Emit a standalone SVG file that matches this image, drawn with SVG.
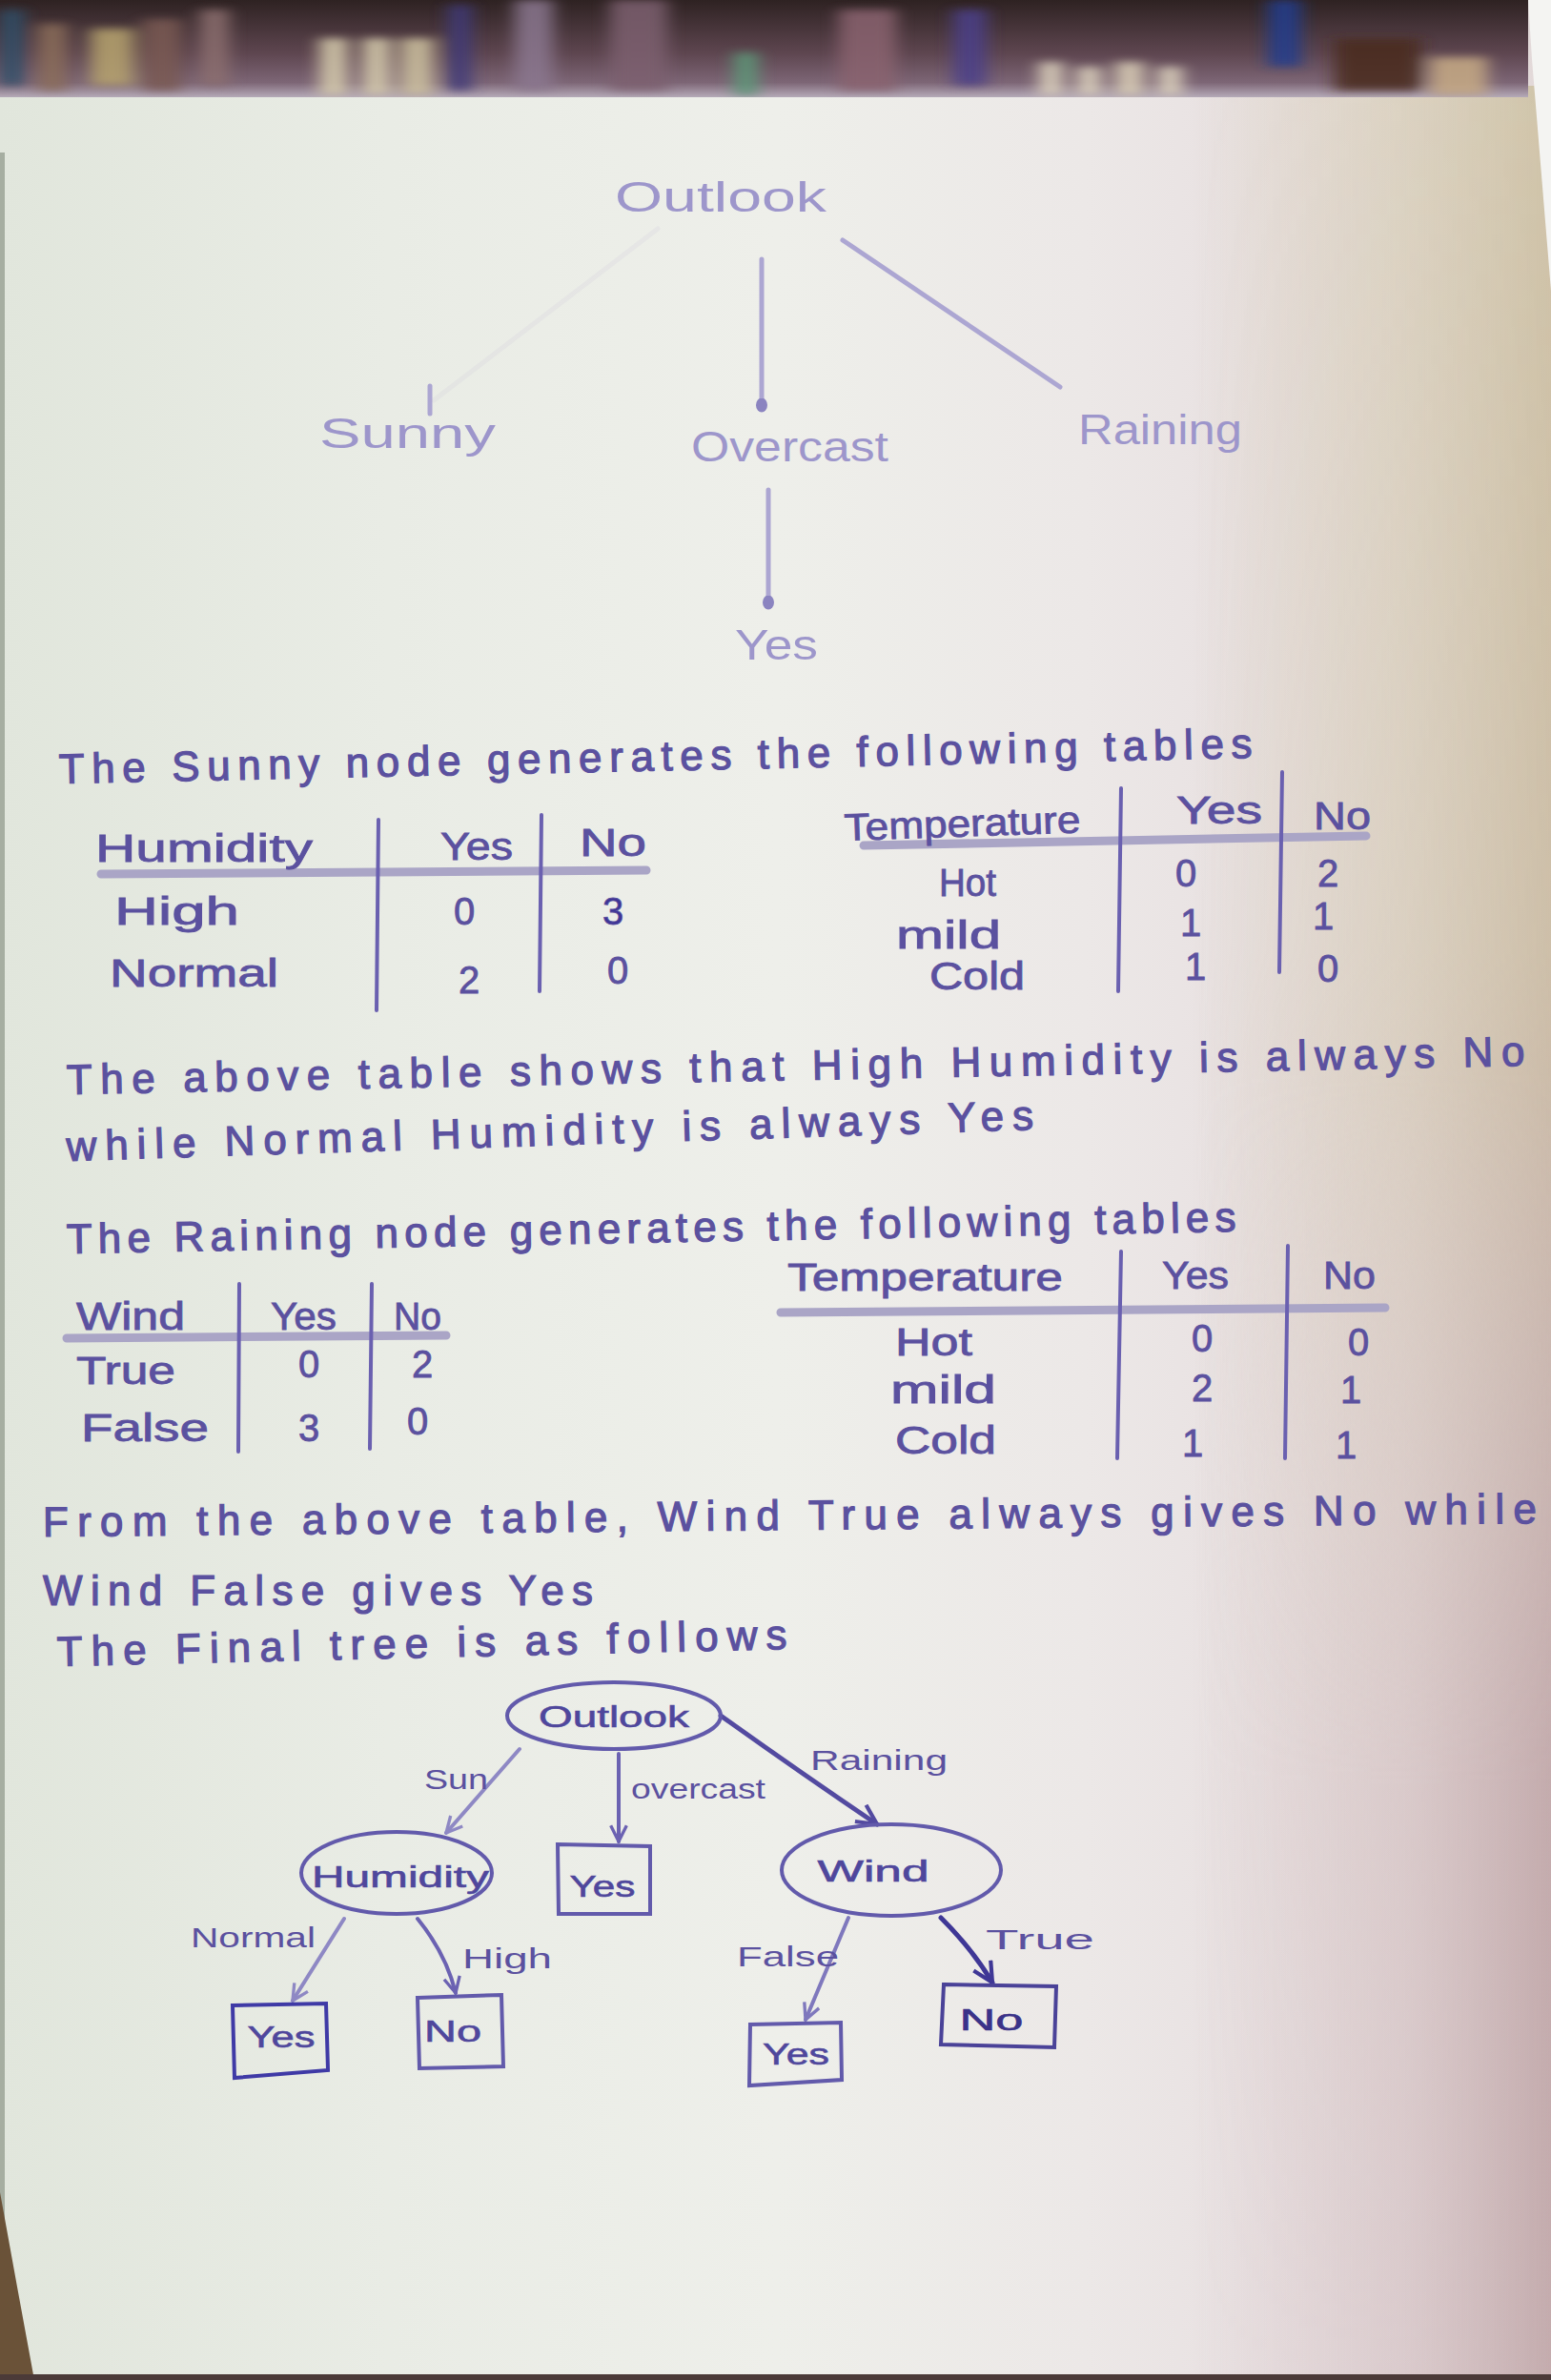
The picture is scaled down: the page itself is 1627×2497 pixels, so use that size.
<svg xmlns="http://www.w3.org/2000/svg" width="1627" height="2497" viewBox="0 0 1627 2497">
  <defs>
    <linearGradient id="paper" x1="0" y1="0" x2="1" y2="0">
      <stop offset="0" stop-color="#e1e6dc"/>
      <stop offset="0.25" stop-color="#e9ece5"/>
      <stop offset="0.5" stop-color="#eeefea"/>
      <stop offset="0.7" stop-color="#ece8e7"/>
      <stop offset="0.82" stop-color="#e8e0e1"/>
      <stop offset="1" stop-color="#e2d8d8"/>
    </linearGradient>
    <linearGradient id="edgeTone" x1="0" y1="0" x2="1" y2="0">
      <stop offset="0" stop-color="#d6cdb0" stop-opacity="0"/>
      <stop offset="0.55" stop-color="#d6cdb0" stop-opacity="0.55"/>
      <stop offset="1" stop-color="#cfc3a6" stop-opacity="0.95"/>
    </linearGradient>
    <linearGradient id="edgeRose" x1="0" y1="0" x2="1" y2="0">
      <stop offset="0" stop-color="#d9c6c9" stop-opacity="0"/>
      <stop offset="0.6" stop-color="#d3bfc2" stop-opacity="0.6"/>
      <stop offset="1" stop-color="#c2a9ab" stop-opacity="0.95"/>
    </linearGradient>
    <linearGradient id="fadeDown" x1="0" y1="0" x2="0" y2="1">
      <stop offset="0" stop-color="#fff"/>
      <stop offset="0.45" stop-color="#fff"/>
      <stop offset="0.75" stop-color="#fff" stop-opacity="0.2"/>
      <stop offset="1" stop-color="#fff" stop-opacity="0"/>
    </linearGradient>
    <linearGradient id="fadeUp" x1="0" y1="0" x2="0" y2="1">
      <stop offset="0" stop-color="#fff" stop-opacity="0"/>
      <stop offset="0.4" stop-color="#fff" stop-opacity="0.2"/>
      <stop offset="0.75" stop-color="#fff"/>
      <stop offset="1" stop-color="#fff"/>
    </linearGradient>
    <mask id="topPart" maskUnits="userSpaceOnUse" x="1200" y="0" width="427" height="2497">
      <rect x="1200" y="0" width="427" height="2497" fill="url(#fadeDown)"/>
    </mask>
    <mask id="lowPart" maskUnits="userSpaceOnUse" x="1200" y="0" width="427" height="2497">
      <rect x="1200" y="0" width="427" height="2497" fill="url(#fadeUp)"/>
    </mask>
    <linearGradient id="band" x1="0" y1="0" x2="0" y2="1">
      <stop offset="0" stop-color="#2e2222"/>
      <stop offset="0.55" stop-color="#5e4650"/>
      <stop offset="0.85" stop-color="#7d6676"/>
      <stop offset="1" stop-color="#b5aab8"/>
    </linearGradient>
    <clipPath id="bandClip">
      <rect x="0" y="0" width="1603" height="102"/>
    </clipPath>
    <filter id="soft" x="-10%" y="-50%" width="120%" height="200%">
      <feGaussianBlur stdDeviation="9 4"/>
    </filter>
    <marker id="tip" viewBox="0 0 12 12" refX="11" refY="6" markerWidth="5" markerHeight="5" orient="auto" markerUnits="strokeWidth">
      <path d="M1,1 L11,6 L1,11" fill="none" stroke="context-stroke" stroke-width="2"/>
    </marker>
    <marker id="dot" viewBox="0 0 10 10" refX="5" refY="5" markerWidth="3" markerHeight="4" orient="auto" markerUnits="strokeWidth">
      <ellipse cx="5" cy="5" rx="5" ry="4" fill="#8b84c0"/>
    </marker>
  </defs>
  <style>
    .ink { font-family: "Liberation Sans", "DejaVu Sans", sans-serif; fill: #5b519f; }
    .faint { font-family: "Liberation Sans", "DejaVu Sans", sans-serif; fill: #9d96cb; font-size: 44px; }
    .line { font-size: 44px; stroke: #5b519f; stroke-width: 1.2; }
    .cell { font-size: 40px; stroke: #5b519f; stroke-width: 0.8; }
    .node { font-size: 31px; fill: #4f479c; stroke: #4f479c; stroke-width: 0.6; }
    .lbl { font-size: 29px; fill: #5b519f; }
    .rule { stroke: #6a60b0; stroke-width: 4; fill: none; stroke-linecap: round; }
    .hdr { stroke: #aaa5c6; stroke-width: 9; fill: none; stroke-linecap: round; }
    .edge { stroke: #6b62b2; stroke-width: 4; fill: none; stroke-linecap: round; marker-end: url(#tip); }
    .oldedge { stroke: #aca6d2; stroke-width: 5; fill: none; stroke-linecap: round; }
    .shape { stroke: #625aab; stroke-width: 4; fill: none; }
  </style>

  <!-- paper -->
  <rect x="0" y="0" width="1627" height="2497" fill="url(#paper)"/>
  <rect x="1250" y="90" width="377" height="2407" fill="url(#edgeTone)" mask="url(#topPart)"/>
  <rect x="1250" y="90" width="377" height="2407" fill="url(#edgeRose)" mask="url(#lowPart)"/>
  <!-- white area beyond the sheet, top right -->
  <polygon points="1603,0 1627,0 1627,305 1607,62" fill="#f4f4f2"/>
  <!-- left edge shadow and curled corner -->
  <rect x="0" y="160" width="5" height="2340" fill="#5f6a58" opacity="0.45"/>
  <path d="M0,2300 Q18,2400 36,2497 L0,2497 Z" fill="#6a5238"/>
  <rect x="0" y="2491" width="1627" height="6" fill="#4b3a38"/>

  <!-- background above the sheet -->
  <g id="backdrop" clip-path="url(#bandClip)">
    <rect x="0" y="0" width="1603" height="102" fill="url(#band)"/>
    <g filter="url(#soft)" opacity="0.85">
      <rect x="0" y="10" width="25" height="80" fill="#2f4f6a"/>
      <rect x="40" y="25" width="30" height="70" fill="#8c6e5a"/>
      <rect x="95" y="30" width="45" height="60" fill="#b7a46e"/>
      <rect x="150" y="20" width="40" height="75" fill="#7a5a52"/>
      <rect x="210" y="10" width="30" height="80" fill="#8d7070"/>
      <rect x="335" y="40" width="30" height="60" fill="#d8ceae"/>
      <rect x="380" y="40" width="30" height="60" fill="#d8ceae"/>
      <rect x="420" y="40" width="35" height="60" fill="#cfc3a0"/>
      <rect x="470" y="5" width="25" height="90" fill="#3f3a7a"/>
      <rect x="540" y="0" width="40" height="95" fill="#8b7890"/>
      <rect x="640" y="0" width="60" height="95" fill="#7d6070"/>
      <rect x="770" y="55" width="25" height="45" fill="#5c9a78"/>
      <rect x="880" y="10" width="60" height="85" fill="#8a6470"/>
      <rect x="1000" y="10" width="35" height="80" fill="#4b3f8a"/>
      <rect x="1090" y="65" width="25" height="35" fill="#e0d6c0"/>
      <rect x="1130" y="70" width="25" height="30" fill="#e0d6c0"/>
      <rect x="1170" y="65" width="30" height="35" fill="#dcd0b8"/>
      <rect x="1215" y="70" width="25" height="30" fill="#e0d6c0"/>
      <rect x="1330" y="0" width="35" height="70" fill="#243e8e"/>
      <rect x="1400" y="40" width="90" height="55" fill="#4a2a1e"/>
      <rect x="1500" y="60" width="60" height="40" fill="#c7ab85"/>
    </g>
  </g>

  <!-- first sketch of the tree (faded) -->
  <g id="connectors-sketch">
    <line class="oldedge" x1="690" y1="240" x2="455" y2="420" opacity="0.1"/>
    <line class="oldedge" x1="451" y1="405" x2="451" y2="434"/>
    <line class="oldedge" x1="799" y1="272" x2="799" y2="425" marker-end="url(#dot)"/>
    <line class="oldedge" x1="884" y1="252" x2="1112" y2="406"/>
    <line class="oldedge" x1="806" y1="514" x2="806" y2="632" marker-end="url(#dot)"/>
  </g>
  <g id="sketch-outlook"><text class="faint" x="645" y="222" textLength="222" lengthAdjust="spacingAndGlyphs">Outlook</text></g>
  <g id="sketch-sunny"><text class="faint" x="335" y="470" textLength="185" lengthAdjust="spacingAndGlyphs">Sunny</text></g>
  <g id="sketch-overcast"><text class="faint" x="725" y="484" textLength="207" lengthAdjust="spacingAndGlyphs">Overcast</text></g>
  <g id="sketch-raining"><text class="faint" x="1131" y="466" textLength="172" lengthAdjust="spacingAndGlyphs">Raining</text></g>
  <g id="sketch-yes"><text class="faint" x="771" y="692" textLength="87" lengthAdjust="spacingAndGlyphs">Yes</text></g>

  <!-- notes -->
  <text class="ink line" x="62" y="822" textLength="1252" lengthAdjust="spacing" transform="rotate(-1.24 62 822)">The Sunny node generates the following tables</text>

  <!-- Sunny: Humidity table -->
  <g id="table-sunny-humidity">
    <line class="hdr" x1="106" y1="917" x2="678" y2="913"/>
    <line class="rule" x1="397" y1="860" x2="395" y2="1060"/>
    <line class="rule" x1="568" y1="855" x2="566" y2="1040"/>
    <text class="ink cell" x="100" y="904" textLength="228" lengthAdjust="spacingAndGlyphs">Humidity</text>
    <text class="ink cell" x="462" y="902" textLength="76" lengthAdjust="spacingAndGlyphs">Yes</text>
    <text class="ink cell" x="608" y="898" textLength="70" lengthAdjust="spacingAndGlyphs">No</text>
    <text class="ink cell" x="120" y="970" textLength="131" lengthAdjust="spacingAndGlyphs">High</text>
    <text class="ink cell" x="487" y="970" text-anchor="middle">0</text>
    <text class="ink cell" x="643" y="970" text-anchor="middle" style="fill:#3e3596">3</text>
    <text class="ink cell" x="115" y="1035" textLength="177" lengthAdjust="spacingAndGlyphs">Normal</text>
    <text class="ink cell" x="492" y="1042" text-anchor="middle">2</text>
    <text class="ink cell" x="648" y="1032" text-anchor="middle">0</text>
  </g>

  <!-- Sunny: Temperature table -->
  <g id="table-sunny-temperature">
    <line class="hdr" x1="906" y1="887" x2="1433" y2="877"/>
    <line class="rule" x1="1176" y1="827" x2="1173" y2="1040"/>
    <line class="rule" x1="1345" y1="810" x2="1342" y2="1020"/>
    <text class="ink cell" x="886" y="882" textLength="248" lengthAdjust="spacingAndGlyphs" transform="rotate(-2 886 882)">Temperature</text>
    <text class="ink cell" x="1234" y="864" textLength="90" lengthAdjust="spacingAndGlyphs">Yes</text>
    <text class="ink cell" x="1378" y="870" textLength="60" lengthAdjust="spacingAndGlyphs">No</text>
    <text class="ink cell" x="985" y="940" textLength="60" lengthAdjust="spacingAndGlyphs">Hot</text>
    <text class="ink cell" x="1244" y="930" text-anchor="middle">0</text>
    <text class="ink cell" x="1393" y="930" text-anchor="middle">2</text>
    <text class="ink cell" x="940" y="995" textLength="110" lengthAdjust="spacingAndGlyphs">mild</text>
    <text class="ink cell" x="1249" y="982" text-anchor="middle">1</text>
    <text class="ink cell" x="1388" y="975" text-anchor="middle">1</text>
    <text class="ink cell" x="975" y="1038" textLength="100" lengthAdjust="spacingAndGlyphs">Cold</text>
    <text class="ink cell" x="1254" y="1028" text-anchor="middle">1</text>
    <text class="ink cell" x="1393" y="1030" text-anchor="middle">0</text>
  </g>

  <text class="ink line" x="70" y="1148" textLength="1530" lengthAdjust="spacing" transform="rotate(-1.12 70 1148)">The above table shows that High Humidity is always No</text>
  <text class="ink line" x="70" y="1218" textLength="1015" lengthAdjust="spacing" transform="rotate(-1.86 70 1218)">while Normal Humidity is always Yes</text>

  <text class="ink line" x="70" y="1315" textLength="1227" lengthAdjust="spacing" transform="rotate(-1.08 70 1315)">The Raining node generates the following tables</text>

  <!-- Raining: Wind table -->
  <g id="table-raining-wind">
    <line class="hdr" x1="70" y1="1404" x2="468" y2="1401"/>
    <line class="rule" x1="251" y1="1347" x2="250" y2="1523"/>
    <line class="rule" x1="390" y1="1347" x2="388" y2="1520"/>
    <text class="ink cell" x="80" y="1395" textLength="114" lengthAdjust="spacingAndGlyphs">Wind</text>
    <text class="ink cell" x="284" y="1395" textLength="69" lengthAdjust="spacingAndGlyphs">Yes</text>
    <text class="ink cell" x="413" y="1395" textLength="50" lengthAdjust="spacingAndGlyphs">No</text>
    <text class="ink cell" x="80" y="1452" textLength="104" lengthAdjust="spacingAndGlyphs">True</text>
    <text class="ink cell" x="324" y="1445" text-anchor="middle">0</text>
    <text class="ink cell" x="443" y="1445" text-anchor="middle">2</text>
    <text class="ink cell" x="85" y="1512" textLength="134" lengthAdjust="spacingAndGlyphs">False</text>
    <text class="ink cell" x="324" y="1512" text-anchor="middle">3</text>
    <text class="ink cell" x="438" y="1505" text-anchor="middle">0</text>
  </g>

  <!-- Raining: Temperature table -->
  <g id="table-raining-temperature">
    <line class="hdr" x1="819" y1="1377" x2="1453" y2="1372"/>
    <line class="rule" x1="1176" y1="1313" x2="1172" y2="1530"/>
    <line class="rule" x1="1351" y1="1307" x2="1348" y2="1530"/>
    <text class="ink cell" x="826" y="1354" textLength="289" lengthAdjust="spacingAndGlyphs">Temperature</text>
    <text class="ink cell" x="1219" y="1352" textLength="70" lengthAdjust="spacingAndGlyphs">Yes</text>
    <text class="ink cell" x="1388" y="1352" textLength="55" lengthAdjust="spacingAndGlyphs">No</text>
    <text class="ink cell" x="939" y="1422" textLength="81" lengthAdjust="spacingAndGlyphs">Hot</text>
    <text class="ink cell" x="1261" y="1418" text-anchor="middle">0</text>
    <text class="ink cell" x="1425" y="1422" text-anchor="middle">0</text>
    <text class="ink cell" x="934" y="1472" textLength="111" lengthAdjust="spacingAndGlyphs">mild</text>
    <text class="ink cell" x="1261" y="1470" text-anchor="middle">2</text>
    <text class="ink cell" x="1417" y="1472" text-anchor="middle">1</text>
    <text class="ink cell" x="939" y="1525" textLength="106" lengthAdjust="spacingAndGlyphs">Cold</text>
    <text class="ink cell" x="1251" y="1528" text-anchor="middle">1</text>
    <text class="ink cell" x="1412" y="1530" text-anchor="middle">1</text>
  </g>

  <text class="ink line" x="45" y="1612" textLength="1567" lengthAdjust="spacing" transform="rotate(-0.51 45 1612)">From the above table, Wind True always gives No while</text>
  <text class="ink line" x="45" y="1684" textLength="577" lengthAdjust="spacing">Wind False gives Yes</text>
  <text class="ink line" x="60" y="1748" textLength="766" lengthAdjust="spacing" transform="rotate(-1.35 60 1748)">The Final tree is as follows</text>

  <!-- final tree: connectors -->
  <g id="connectors">
    <path class="edge" d="M545,1835 L468,1923" style="stroke:#8e88c4"/>
    <path class="edge" d="M649,1840 L649,1932"/>
    <path class="edge" d="M756,1800 Q840,1860 920,1914" style="stroke:#534aa0;stroke-width:5"/>
    <path class="edge" d="M361,2013 L307,2099" style="stroke:#8e88c4"/>
    <path class="edge" d="M438,2013 Q468,2050 478,2091"/>
    <path class="edge" d="M890,2012 L845,2119" style="stroke:#7f78bd"/>
    <path class="edge" d="M987,2012 Q1020,2045 1041,2080" style="stroke:#3f3796;stroke-width:5"/>
    <text class="ink lbl" x="445" y="1877" textLength="67" lengthAdjust="spacingAndGlyphs">Sun</text>
    <text class="ink lbl" x="662" y="1887" textLength="141" lengthAdjust="spacingAndGlyphs">overcast</text>
    <text class="ink lbl" x="850" y="1857" textLength="144" lengthAdjust="spacingAndGlyphs">Raining</text>
    <text class="ink lbl" x="200" y="2043" textLength="131" lengthAdjust="spacingAndGlyphs">Normal</text>
    <text class="ink lbl" x="485" y="2065" textLength="94" lengthAdjust="spacingAndGlyphs">High</text>
    <text class="ink lbl" x="773" y="2063" textLength="107" lengthAdjust="spacingAndGlyphs">False</text>
    <text class="ink lbl" x="1034" y="2045" textLength="114" lengthAdjust="spacingAndGlyphs">True</text>
  </g>

  <!-- final tree: nodes -->
  <g id="node-outlook">
    <ellipse class="shape" cx="644" cy="1800" rx="112" ry="35"/>
    <text class="ink node" x="644" y="1812" text-anchor="middle" textLength="158" lengthAdjust="spacingAndGlyphs">Outlook</text>
  </g>
  <g id="node-humidity">
    <ellipse class="shape" cx="416" cy="1965" rx="100" ry="43"/>
    <text class="ink node" x="420" y="1980" text-anchor="middle" textLength="186" lengthAdjust="spacingAndGlyphs">Humidity</text>
  </g>
  <g id="node-overcast-yes">
    <path class="shape" d="M585,1935 L682,1937 L682,2008 L586,2008 Z"/>
    <text class="ink node" x="632" y="1990" text-anchor="middle" textLength="69" lengthAdjust="spacingAndGlyphs">Yes</text>
  </g>
  <g id="node-wind">
    <ellipse class="shape" cx="935" cy="1962" rx="115" ry="48"/>
    <text class="ink node" x="916" y="1974" text-anchor="middle" textLength="117" lengthAdjust="spacingAndGlyphs">Wind</text>
  </g>
  <g id="node-normal-yes">
    <path class="shape" d="M244,2104 L342,2102 L344,2172 L246,2180 Z" style="stroke:#3f3aa6"/>
    <text class="ink node" x="295" y="2148" text-anchor="middle" textLength="71" lengthAdjust="spacingAndGlyphs">Yes</text>
  </g>
  <g id="node-high-no">
    <path class="shape" d="M438,2096 L526,2093 L528,2168 L440,2170 Z"/>
    <text class="ink node" x="475" y="2142" text-anchor="middle" textLength="60" lengthAdjust="spacingAndGlyphs">No</text>
  </g>
  <g id="node-false-yes">
    <path class="shape" d="M787,2124 L882,2122 L883,2182 L786,2188 Z"/>
    <text class="ink node" x="835" y="2166" text-anchor="middle" textLength="70" lengthAdjust="spacingAndGlyphs">Yes</text>
  </g>
  <g id="node-true-no">
    <path class="shape" d="M990,2082 L1108,2084 L1106,2148 L987,2145 Z" style="stroke:#4a4298"/>
    <text class="ink node" x="1040" y="2130" text-anchor="middle" textLength="67" lengthAdjust="spacingAndGlyphs" style="fill:#3a3288;stroke:#3a3288">No</text>
  </g>
</svg>
